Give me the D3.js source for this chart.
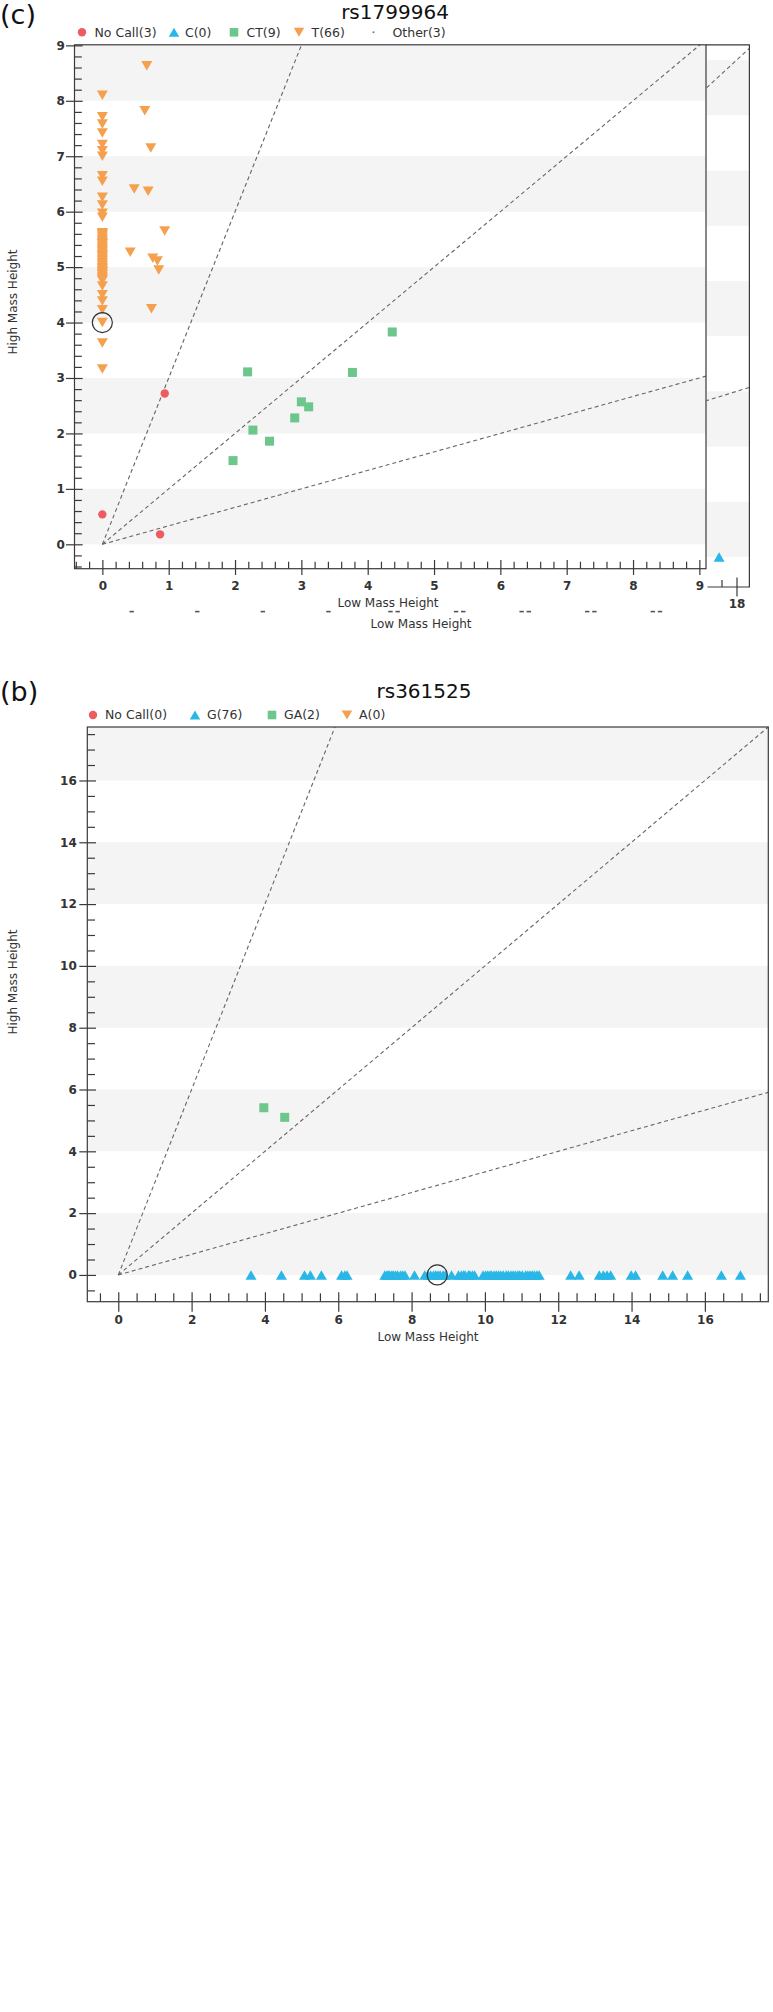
<!DOCTYPE html>
<html><head><meta charset="utf-8">
<script src="https://cdn.jsdelivr.net/npm/d3@7"></script>
<style>
body{margin:0;background:#fff;}
svg{display:block;}
text{font-family:"DejaVu Sans",sans-serif;}
</style></head><body>
<svg id="c" width="773" height="2012"></svg>
<script>
// ===== Chart (c) rs1799964 data =====
const cTitle = "rs1799964";
const cLegend = ["No Call(3)","C(0)","CT(9)","T(66)","Other(3)"];
const cNoCall = [[0,0.54],[0.87,0.18],[0.94,2.72]];
const cCT = [[2.19,3.11],[3.77,3.10],[4.37,3.83],[3.00,2.57],[3.11,2.48],[2.90,2.28],[2.27,2.06],[2.52,1.86],[1.97,1.51]];
const cT_atZeroY = [8.10,7.71,7.58,7.42,7.21,7.10,7.00,6.65,6.55,6.26,6.12,5.97,5.90,
  5.62,5.60,5.58,5.55,5.51,5.48,5.45,5.43,5.42,5.39,5.36,5.33,5.30,5.28,5.25,5.22,5.21,5.19,5.16,5.13,5.11,5.08,5.05,
  5.02,4.99,4.97,4.94,4.92,4.91,4.88,4.86,4.83,4.80,4.78,4.76,
  4.66,4.50,4.39,4.23,4.00,3.63,3.16];
const cT_off = [[0.67,8.63],[0.64,7.82],[0.73,7.15],[0.48,6.41],[0.69,6.37],[0.94,5.65],[0.42,5.27],[0.76,5.16],[0.83,5.11],[0.85,4.95],[0.74,4.25]];
const cHighlight = [[0,4.00]];
const cXTicks = [0,1,2,3,4,5,6,7,8,9];
const cYTicks = [0,1,2,3,4,5,6,7,8,9];
const cBands = [[0,1],[2,3],[4,5],[6,7],[8,9]];
// overlapping fragment panel at right of chart (c)
const pC = [[17.42,0]];
const pXTicks = [18];
const pBands = [[0,2],[4,6],[8,10],[12,14],[16,18]];
const ghostLabels = [2,4,6,8,10,12,14,16,18];
// cluster boundary slopes (High/Low)
const slopes = [3, 1, 1/3];

// ===== Chart (b) rs361525 data =====
const bTitle = "rs361525";
const bLegend = ["No Call(0)","G(76)","GA(2)","A(0)"];
const bGA = [[3.97,5.41],[4.54,5.10]];
const bG_x = [3.62,4.45,5.08,5.24,5.54,6.09,6.18,6.24,
  7.27,7.33,7.36,7.40,7.46,7.50,7.56,7.62,7.70,7.76,7.82,
  8.08,8.36,8.44,8.52,8.60,8.66,8.72,8.78,8.86,8.92,9.09,9.28,
  9.36,9.42,9.46,9.55,9.59,9.66,9.72,
  9.95,10.02,10.08,10.14,10.18,10.25,10.31,10.37,10.43,10.50,
  10.58,10.64,10.71,10.77,10.83,10.90,10.95,11.02,
  11.11,11.17,11.23,11.29,11.35,11.42,11.48,
  12.34,12.57,13.12,13.23,13.33,13.43,13.99,14.11,14.85,15.12,15.53,16.45,16.97];
const bHighlight = [[8.70,0]];
const bXTicks = [0,2,4,6,8,10,12,14,16];
const bYTicks = [0,2,4,6,8,10,12,14,16];
const bBands = [[0,2],[4,6],[8,10],[12,14],[16,18]];

// ===== styles =====
const COL = {red:"#ee5b60", blue:"#29b7e7", green:"#6dc68b", orange:"#f5a04f", band:"#f4f4f4", axis:"#3a3a3a", text:"#333"};
const TRI_W = 11, TRI_H = 9.5, SQ = 9, DOT_R = 4.2;
const svg = d3.select("#c");
const defs = svg.append("defs");

function triUp(w,h){return `M0,${-h/2}L${w/2},${h/2}L${-w/2},${h/2}Z`;}
function triDown(w,h){return `M0,${h/2}L${w/2},${-h/2}L${-w/2},${-h/2}Z`;}

function styleAxis(g, withText){
  g.select(".domain").remove();
  g.selectAll(".tick line").attr("stroke", COL.axis).attr("stroke-width", 1.2);
  if(withText) g.selectAll(".tick text").attr("fill", COL.text).attr("font-size", "12px")
      .attr("font-weight", "bold").attr("font-family", "DejaVu Sans, sans-serif");
}

function plot(o){
  const x = d3.scaleLinear().domain(o.xd).range([o.L, o.R]);
  const y = d3.scaleLinear().domain(o.yd).range([o.B, o.T]);
  const g = svg.append("g");
  const id = "clip" + o.name;
  defs.append("clipPath").attr("id", id).append("rect")
    .attr("x", o.L).attr("y", o.T).attr("width", o.R - o.L).attr("height", o.B - o.T);
  g.append("g").selectAll("rect").data(o.bands).join("rect")
    .attr("x", o.L).attr("width", o.R - o.L)
    .attr("y", d => Math.max(o.T, y(d[1]))).attr("height", d => y(d[0]) - Math.max(o.T, y(d[1])))
    .attr("fill", COL.band);
  const lg = g.append("g").attr("clip-path", `url(#${id})`);
  lg.selectAll("line").data(slopes).join("line")
    .attr("x1", x(0)).attr("y1", y(0))
    .attr("x2", s => x(o.xd[1] * 1.5)).attr("y2", s => y(o.xd[1] * 1.5 * s))
    .attr("stroke", "#666").attr("stroke-width", 1.1).attr("stroke-dasharray", "4,3");
  return {x, y, g, lg};
}

// ---------------- Chart (c) ----------------
const C = plot({name:"c", xd:[-0.42, 9.10], yd:[-0.44, 9.01], L:74.5, R:706, T:44.8, B:568.7, bands:cBands});
const P = (function(){
  const x = d3.scaleLinear().domain([17.0, 18.43]).range([706.5, 749.4]);
  const y = d3.scaleLinear().domain([0, 18]).range([557, 60.2]);
  const g = svg.append("g");
  defs.append("clipPath").attr("id", "clipP").append("rect")
    .attr("x", 706.5).attr("y", 44.8).attr("width", 42.9).attr("height", 587 - 44.8);
  g.append("g").selectAll("rect").data(pBands).join("rect")
    .attr("x", 706.5).attr("width", 42.9)
    .attr("y", d => y(d[1])).attr("height", d => y(d[0]) - y(d[1])).attr("fill", COL.band);
  const lg = g.append("g").attr("clip-path", "url(#clipP)");
  lg.selectAll("line").data(slopes).join("line")
    .attr("x1", x(0)).attr("y1", y(0)).attr("x2", x(30)).attr("y2", s => y(30 * s))
    .attr("stroke", "#666").attr("stroke-width", 1.1).attr("stroke-dasharray", "4,3");
  g.selectAll("path.pc").data(pC).join("path").attr("class","pc")
    .attr("transform", d => `translate(${x(d[0])},${y(d[1])})`).attr("d", triUp(TRI_W, TRI_H)).attr("fill", COL.blue);
  g.append("path").attr("d", `M706,44.8H749.4V587H707.5`).attr("fill", "none").attr("stroke", COL.axis).attr("stroke-width", 1.2);
  const ax = g.append("g").attr("transform", "translate(0,587)");
  ax.append("g").call(d3.axisBottom(x).tickValues(pXTicks).tickSize(9.6).tickSizeOuter(0).tickPadding(3.3).tickFormat(d3.format("d"))).call(a => styleAxis(a, true));
  ax.append("g").call(d3.axisBottom(x).tickValues(pXTicks).tickSize(-9.5).tickSizeOuter(0).tickFormat("")).call(a => styleAxis(a, false));
  ax.append("g").call(d3.axisBottom(x).tickValues([17.5]).tickSize(-7).tickSizeOuter(0).tickFormat("")).call(a => styleAxis(a, false));
  return {x, y};
})();

const cg = C.g.append("g");
cg.selectAll("circle.nc").data(cNoCall).join("circle").attr("class","nc")
  .attr("cx", d => C.x(d[0])).attr("cy", d => C.y(d[1])).attr("r", DOT_R).attr("fill", COL.red);
cg.selectAll("rect.ct").data(cCT).join("rect").attr("class","ct")
  .attr("x", d => C.x(d[0]) - SQ/2).attr("y", d => C.y(d[1]) - SQ/2).attr("width", SQ).attr("height", SQ).attr("fill", COL.green);
cg.selectAll("path.t0").data(cT_atZeroY).join("path").attr("class","t0")
  .attr("transform", d => `translate(${C.x(0)},${C.y(d)})`).attr("d", triDown(TRI_W, TRI_H)).attr("fill", COL.orange);
cg.selectAll("path.t1").data(cT_off).join("path").attr("class","t1")
  .attr("transform", d => `translate(${C.x(d[0])},${C.y(d[1])})`).attr("d", triDown(TRI_W, TRI_H)).attr("fill", COL.orange);
cg.selectAll("circle.hl").data(cHighlight).join("circle").attr("class","hl")
  .attr("cx", d => C.x(d[0])).attr("cy", d => C.y(d[1])).attr("r", 10)
  .attr("fill", "none").attr("stroke", "#333").attr("stroke-width", 1.2);
svg.append("rect").attr("x", 74.5).attr("y", 44.8).attr("width", 706 - 74.5).attr("height", 568.7 - 44.8)
  .attr("fill", "none").attr("stroke", COL.axis).attr("stroke-width", 1.2);

function axes(S, ox, oy, xt, yt, xMinor, yMinor, xs, ys, fmt){
  const xa = svg.append("g").attr("transform", `translate(0,${oy})`);
  xa.append("g").call(d3.axisBottom(S.x).tickValues(xt).tickSize(xs.down).tickSizeOuter(0).tickPadding(xs.pad).tickFormat(fmt)).call(a => styleAxis(a, true));
  xa.append("g").call(d3.axisBottom(S.x).tickValues(xt).tickSize(-xs.up).tickSizeOuter(0).tickFormat("")).call(a => styleAxis(a, false));
  xa.append("g").call(d3.axisBottom(S.x).tickValues(xMinor).tickSize(-xs.minor).tickSizeOuter(0).tickFormat("")).call(a => styleAxis(a, false));
  const ya = svg.append("g").attr("transform", `translate(${ox},0)`);
  ya.append("g").call(d3.axisLeft(S.y).tickValues(yt).tickSize(ys.out).tickSizeOuter(0).tickPadding(ys.pad).tickFormat(fmt)).call(a => styleAxis(a, true));
  ya.append("g").call(d3.axisLeft(S.y).tickValues(yt).tickSize(-ys.inn).tickSizeOuter(0).tickFormat("")).call(a => styleAxis(a, false));
  ya.append("g").call(d3.axisLeft(S.y).tickValues(yMinor).tickSize(-ys.minor).tickSizeOuter(0).tickFormat("")).call(a => styleAxis(a, false));
}
const cMinorX = d3.range(-4, 91, 2).map(v => v / 10).filter(v => Math.abs(v - Math.round(v)) > 1e-6);
const cMinorY = d3.range(-4, 90, 2).map(v => v / 10).filter(v => Math.abs(v - Math.round(v)) > 1e-6);
axes(C, 74.5, 568.7, cXTicks, cYTicks, cMinorX, cMinorY,
  {down:6.3, up:8.7, minor:7, pad:6.9}, {out:8.5, inn:8.2, minor:7.3, pad:1.2}, d3.format("d"));

// clipped remnants of a hidden label row (only their lowest pixels show)
const gx = d3.scaleLinear().domain([2, 18]).range([131.7, 656.4]);
const ghost = svg.append("g").attr("fill", "#555");
ghostLabels.forEach(d => {
  const n = String(d).length;
  for (let k = 0; k < n; k++) {
    const cx = gx(d) + (n === 1 ? 0 : (k === 0 ? -3.6 : 3.6));
    ghost.append("rect").attr("x", cx - 2.2).attr("y", 610.8).attr("width", 4.4).attr("height", 1.6);
  }
});

svg.append("text").attr("x", 0).attr("y", 24).attr("font-family", "Open Sans, sans-serif").attr("font-size", "27px").attr("fill", "#111").text("(c)");
svg.append("text").attr("x", 395).attr("y", 18.5).attr("text-anchor", "middle").attr("font-family", "Open Sans, sans-serif").attr("font-size", "20px").attr("fill", "#111").text(cTitle);
svg.append("text").attr("x", 388).attr("y", 607).attr("text-anchor", "middle").attr("font-size", "12px").attr("fill", COL.text).text("Low Mass Height");
svg.append("text").attr("x", 421).attr("y", 628).attr("text-anchor", "middle").attr("font-size", "12px").attr("fill", COL.text).text("Low Mass Height");
svg.append("text").attr("transform", "translate(17,302) rotate(-90)").attr("text-anchor", "middle").attr("font-size", "12px").attr("fill", COL.text).text("High Mass Height");

function legend(items, xs, cy, gaps){
  const shapes = {
    circle: g => g.append("circle").attr("r", 4.2).attr("fill", COL.red),
    up: g => g.append("path").attr("d", triUp(10.5, 9)).attr("fill", COL.blue),
    sq: g => g.append("rect").attr("x", -4.3).attr("y", -4.3).attr("width", 8.6).attr("height", 8.6).attr("fill", COL.green),
    down: g => g.append("path").attr("d", triDown(10.5, 9)).attr("fill", COL.orange),
    dot: g => g.append("circle").attr("r", 1).attr("fill", "#777")
  };
  const kinds = ["circle","up","sq","down","dot"];
  items.forEach((t, i) => {
    const g = svg.append("g").attr("transform", `translate(${xs[i]},${cy})`);
    shapes[kinds[i]](g);
    g.append("text").attr("x", gaps[i]).attr("y", 4.4).attr("font-size", "12.5px").attr("fill", COL.text).text(t);
  });
}
legend(cLegend, [82, 174, 234, 299, 373.5], 32.3, [12.5, 11, 12.5, 12.5, 19]);

// ---------------- Chart (b) ----------------
const B = plot({name:"b", xd:[-0.845, 17.73], yd:[-0.866, 17.73], L:87.3, R:768.3, T:727, B:1301.7, bands:bBands});
const bg = B.g.append("g");
bg.selectAll("path.g").data(bG_x).join("path").attr("class","g")
  .attr("transform", d => `translate(${B.x(d)},${B.y(0)})`).attr("d", triUp(TRI_W, TRI_H)).attr("fill", COL.blue);
bg.selectAll("rect.ga").data(bGA).join("rect").attr("class","ga")
  .attr("x", d => B.x(d[0]) - SQ/2).attr("y", d => B.y(d[1]) - SQ/2).attr("width", SQ).attr("height", SQ).attr("fill", COL.green);
bg.selectAll("circle.hl").data(bHighlight).join("circle").attr("class","hl")
  .attr("cx", d => B.x(d[0])).attr("cy", d => B.y(d[1])).attr("r", 10)
  .attr("fill", "none").attr("stroke", "#333").attr("stroke-width", 1.2);
svg.append("rect").attr("x", 87.3).attr("y", 727).attr("width", 768.3 - 87.3).attr("height", 1301.7 - 727)
  .attr("fill", "none").attr("stroke", COL.axis).attr("stroke-width", 1.2);
const bMinorX = d3.range(-1, 36, 1).map(v => v / 2).filter(v => v % 2 !== 0);
const bMinorY = d3.range(-1, 36, 1).map(v => v / 2).filter(v => v % 2 !== 0);
axes(B, 87.3, 1301.7, bXTicks, bYTicks, bMinorX, bMinorY,
  {down:10, up:9.4, minor:8.4, pad:4.2}, {out:8, inn:8.7, minor:7.7, pad:2.5}, d3.format("d"));

svg.append("text").attr("x", 0).attr("y", 701).attr("font-family", "Open Sans, sans-serif").attr("font-size", "27px").attr("fill", "#111").text("(b)");
svg.append("text").attr("x", 424).attr("y", 697.5).attr("text-anchor", "middle").attr("font-family", "Open Sans, sans-serif").attr("font-size", "20px").attr("fill", "#111").text(bTitle);
svg.append("text").attr("x", 428).attr("y", 1341).attr("text-anchor", "middle").attr("font-size", "12px").attr("fill", COL.text).text("Low Mass Height");
svg.append("text").attr("transform", "translate(17,982) rotate(-90)").attr("text-anchor", "middle").attr("font-size", "12px").attr("fill", COL.text).text("High Mass Height");
legend(bLegend, [93, 195, 272, 347], 715, [12, 12, 12, 12]);
</script>
</body></html>
